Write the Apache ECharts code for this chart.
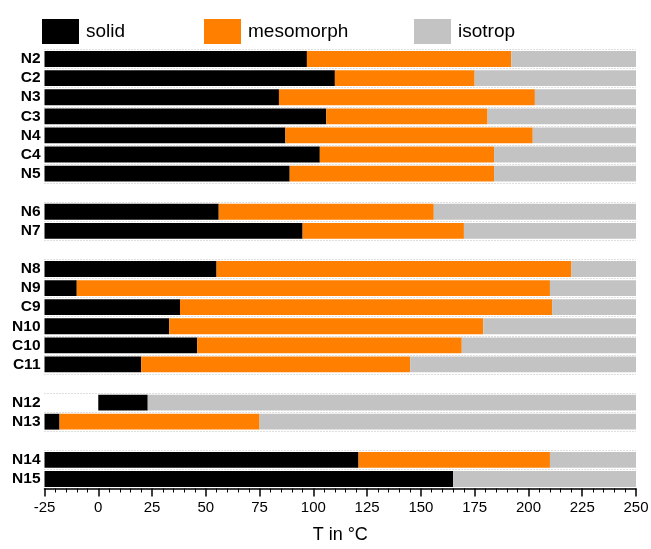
<!DOCTYPE html>
<html>
<head>
<meta charset="utf-8">
<script src="https://cdn.jsdelivr.net/npm/echarts@6/dist/echarts.min.js"></script>
<style>
  html, body { margin: 0; padding: 0; background: #fff; }
  #chart { width: 651px; height: 549px; }
</style>
</head>
<body>
<div id="chart"></div>
<script>
// rows from top to bottom, blank names are the gaps between groups
var categories = ['N2', 'C2', 'N3', 'C3', 'N4', 'C4', 'N5', ' ',
  'N6', 'N7', '  ',
  'N8', 'N9', 'C9', 'N10', 'C10', 'C11', '   ',
  'N12', 'N13', '    ',
  'N14', 'N15']
// where the solid bar starts (°C)
var solidStart = [-25, -25, -25, -25, -25, -25, -25, null,
  -25, -25, null,
  -25, -25, -25, -25, -25, -25, null,
  0, -25, null,
  -25, -25]
// melting point: end of solid (°C)
var meltT = [97, 110, 84, 106, 87, 103, 89, null,
  56, 95, null,
  55, -10, 38, 33, 46, 20, null,
  23, -18, null,
  121, 165]
// clearing point: end of mesomorph (°C)
var clearT = [192, 175, 203, 181, 202, 184, 184, null,
  156, 170, null,
  220, 210, 211, 179, 169, 145, null,
  23, 75, null,
  210, 165]
var tMax = 250
var xTicks = [-25, 0, 25, 50, 75, 100, 125, 150, 175, 200, 225, 250]

var font = "'Liberation Sans', Arial, sans-serif"

function diff (a, b) {
  return a.map(function (v, i) {
    if (v === null || b[i] === null) return null
    return v - b[i]
  })
}

var solidLen = diff(meltT, solidStart)
var mesoLen = diff(clearT, meltT)
var isoLen = clearT.map(function (v) { return v === null ? null : tMax - v })

var myChart = echarts.init(document.getElementById('chart'))
myChart.setOption({
  animation: false,
  color: ['#000000', '#ff8000', '#c3c3c3'],
  legend: [
    { data: ['solid'], left: 37, top: 14 },
    { data: ['mesomorph'], left: 199, top: 14 },
    { data: ['isotrop'], left: 409, top: 14 }
  ].map(function (l) {
    l.icon = 'rect'
    l.itemWidth = 37
    l.itemHeight = 25
    l.selectedMode = false
    l.textStyle = { fontFamily: font, fontSize: 19, color: '#000', padding: [2, 0, 0, 2] }
    return l
  }),
  grid: {
    left: 44.5,
    right: 15,
    top: 49.5,
    bottom: 60.5,
    containLabel: false,
    outerBoundsMode: 'none'
  },
  xAxis: {
    type: 'value',
    min: xTicks[0],
    max: xTicks[xTicks.length - 1],
    interval: 25,
    name: 'T in °C',
    nameLocation: 'middle',
    nameGap: 38,
    nameTextStyle: { fontFamily: font, fontSize: 18, color: '#000' },
    axisLine: { show: true, lineStyle: { color: '#000', width: 1.5 } },
    axisTick: { show: true, length: 8, lineStyle: { color: '#000', width: 1.5 } },
    minorTick: { show: true, splitNumber: 5, length: 4, lineStyle: { color: '#000', width: 1 } },
    axisLabel: { margin: 12, fontFamily: font, fontSize: 15, color: '#000' },
    splitLine: { show: false }
  },
  yAxis: {
    type: 'category',
    inverse: true,
    data: categories,
    axisLine: { show: false },
    axisTick: { show: false },
    axisLabel: {
      interval: 0,
      margin: 4,
      fontFamily: font,
      fontSize: 15.5,
      fontWeight: 'bold',
      color: '#000'
    },
    splitLine: {
      show: true,
      interval: 0,
      lineStyle: { color: '#bdbdbd', type: [1, 2], width: 1 }
    }
  },
  series: [
    {
      name: 'base',
      type: 'bar',
      stack: 'T',
      stackStrategy: 'all',
      silent: true,
      barCategoryGap: '17%',
      itemStyle: { color: 'rgba(0,0,0,0)' },
      data: solidStart
    },
    {
      name: 'solid',
      type: 'bar',
      stack: 'T',
      stackStrategy: 'all',
      barCategoryGap: '17%',
      data: solidLen
    },
    {
      name: 'mesomorph',
      type: 'bar',
      stack: 'T',
      stackStrategy: 'all',
      barCategoryGap: '17%',
      data: mesoLen
    },
    {
      name: 'isotrop',
      type: 'bar',
      stack: 'T',
      stackStrategy: 'all',
      barCategoryGap: '17%',
      data: isoLen
    }
  ]
})
</script>
</body>
</html>
